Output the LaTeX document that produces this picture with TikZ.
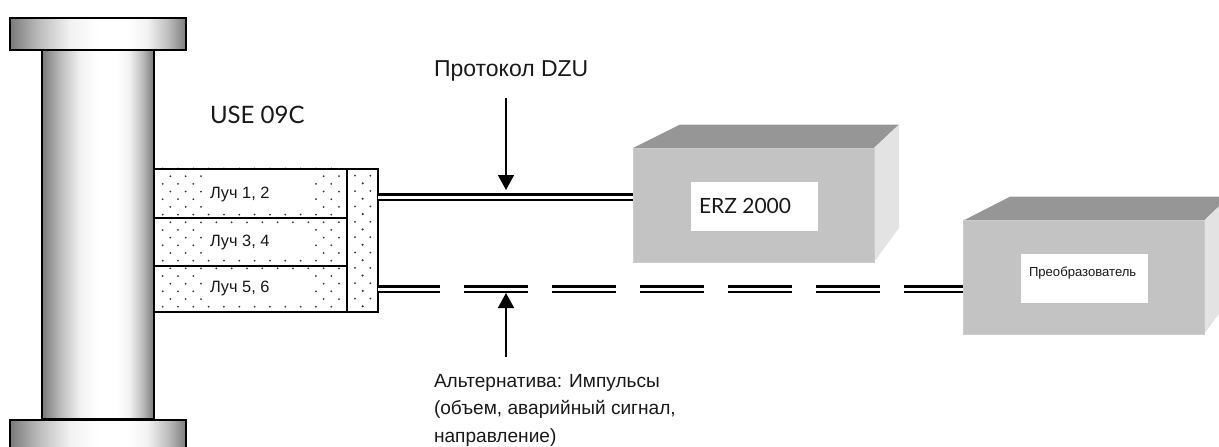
\documentclass[tikz,border=0pt]{standalone}
\usepackage{fontspec}
\setmainfont{Lato}
\newfontfamily\arialf{Liberation Sans}
\usetikzlibrary{arrows.meta,calc}
\definecolor{gedge}{HTML}{7A7A7A}
\definecolor{gmid}{HTML}{BBBBBB}
\definecolor{gl}{HTML}{F2F2F2}
\definecolor{frontc}{HTML}{C3C3C3}
\definecolor{topc}{HTML}{969696}
\definecolor{sidec}{HTML}{E3E3E3}
\pgfdeclarehorizontalshading{metal}{100bp}{color(0bp)=(gedge); color(25bp)=(gedge); color(33bp)=(gmid); color(42bp)=(gl); color(50bp)=(white); color(58bp)=(white); color(64bp)=(gl); color(70bp)=(gmid); color(75bp)=(gedge); color(100bp)=(gedge)}
\tikzset{
  every node/.style={outer sep=0pt},
  metalpart/.style={draw=black,line width=2pt,shading=metal,rectangle,inner sep=0pt,anchor=north west},
  cell/.style={draw=black,line width=2pt,rectangle,inner sep=0pt,anchor=north west,minimum width=192.5pt},
  whitepatch/.style={fill=white,rectangle,inner sep=0pt,anchor=north west},
  front/.style={fill=frontc,draw=frontc!85!white,line width=0.8pt,rectangle,inner sep=0pt,anchor=north west,minimum width=241pt,minimum height=114pt},
  plate/.style={fill=white,rectangle,inner sep=0pt,anchor=north west,minimum width=127pt,minimum height=49pt},
  lab/.style={inner sep=0pt,anchor=base west,text=black!90},
  cable/.style={draw=black,line width=2.2pt,double=white,double distance=3pt},
  cabledash/.style={cable,dash pattern=on 64pt off 24pt,dash phase=2pt},
  pointer/.style={draw=black,line width=1.5pt,-{Triangle[length=15pt,width=16pt]}},
  dotm/.style={fill=black!80,draw=none}
}
\begin{document}
\begin{tikzpicture}[x=1pt,y=-1pt]
\useasboundingbox (0,0) rectangle (1219,447);
\clip (0,0) rectangle (1219,447);
% sensor cells background
\foreach \r in {0,...,18}{
  \pgfmathsetmacro{\sh}{mod(\r,2)==0?0:7.67}
  \foreach \c in {0,...,11}{
    \fill[dotm] ({162.67+\sh+15.33*\c},{168.5+7.68*\r}) circle (1pt);
  }
}
\node[whitepatch,minimum width=108pt,minimum height=40pt] (w1) at (202,170) {};
\node[whitepatch,minimum width=108pt,minimum height=33pt] (w2) at (202,225) {};
\node[whitepatch,minimum width=108pt,minimum height=34pt] (w3) at (202,270) {};
\node[cell,minimum height=49.2pt] (ray1) at (154,168.5) {};
\node[cell,minimum height=48pt] (ray2) at (154,217.7) {};
\node[cell,minimum height=46.3pt] (ray3) at (154,265.7) {};
\node[cell,minimum width=31.8pt,minimum height=143.5pt] (head) at (346.5,168.5) {};
\foreach \r in {0,...,17}{
  \foreach \c in {0,1}{
    \pgfmathsetmacro{\xx}{mod(\r,2)==0?355+15.33*\c:362.67}
    \fill[dotm] (\xx,{175.7+7.68*\r}) circle (1pt);
  }
}
% pipe
\node[metalpart,minimum width=111.5pt,minimum height=369pt] (pipe) at (42.2,50) {};
\node[metalpart,minimum width=176.5pt,minimum height=31.5pt] (flangetop) at (9.9,18) {};
\node[metalpart,minimum width=176.5pt,minimum height=40pt] (flangebot) at (9.9,419.7) {};
% ERZ box
\fill[topc] (633,148) -- (680,124.5) -- (899,124.5) -- (874,148) -- cycle;
\fill[sidec] (874,148) -- (899,124.5) -- (899,228) -- (874,262) -- cycle;
\node[front] (erz) at (633,148) {};
\node[plate] (erzplate) at (691,182) {};
\node[lab,font=\fontsize{21}{24}\selectfont] (erzl) at (699,213) {ERZ 2000};
% converter box
\fill[topc] (963,220.7) -- (1010,196.7) -- (1229,196.7) -- (1204,220.7) -- cycle;
\fill[sidec] (1204,220.7) -- (1229,196.7) -- (1229,300) -- (1204,334) -- cycle;
\node[front] (conv) at (963,220.5) {};
\node[plate] (convplate) at (1021,254) {};
\node[lab,font=\arialf\fontsize{13.1}{15}\selectfont] (convl) at (1029,276.5) {Преобразователь};
% cables
\coordinate (c1) at (head.east |- 0,197);
\coordinate (c2) at (head.east |- 0,289);
\draw[cable] (c1) -- (erz.west |- c1);
\draw[cabledash] (c2) -- (conv.west |- c2);
% pointers
\coordinate (p1) at (506,98);
\coordinate (p1t) at (506,190);
\coordinate (p2) at (506,357);
\coordinate (p2t) at (506,293);
\draw[pointer] (p1) -- (p1t);
\draw[pointer] (p2) -- (p2t);
% labels
\node[lab,font=\arialf\fontsize{23}{26}\selectfont] (proto) at (434,76) {Протокол DZU};
\node[lab,font=\fontsize{24}{26}\selectfont] (use) at (210,123) {USE 09C};
\node[lab,font=\arialf\fontsize{16.4}{18}\selectfont] (l1) at (210,198) {Луч 1, 2};
\node[lab,font=\arialf\fontsize{16.4}{18}\selectfont] (l2) at (210,246.5) {Луч 3, 4};
\node[lab,font=\arialf\fontsize{16.4}{18}\selectfont] (l3) at (210,292) {Луч 5, 6};
\node[lab,font=\arialf\fontsize{19.1}{20}\selectfont] (a1) at (434,387) {Альтернатива: Импульсы};
\node[lab,font=\arialf\fontsize{19.1}{20}\selectfont] (a2) at (434,414.5) {(объем, аварийный сигнал,};
\node[lab,font=\arialf\fontsize{19.1}{20}\selectfont] (a3) at (434,442) {направление)};
\end{tikzpicture}
\end{document}
